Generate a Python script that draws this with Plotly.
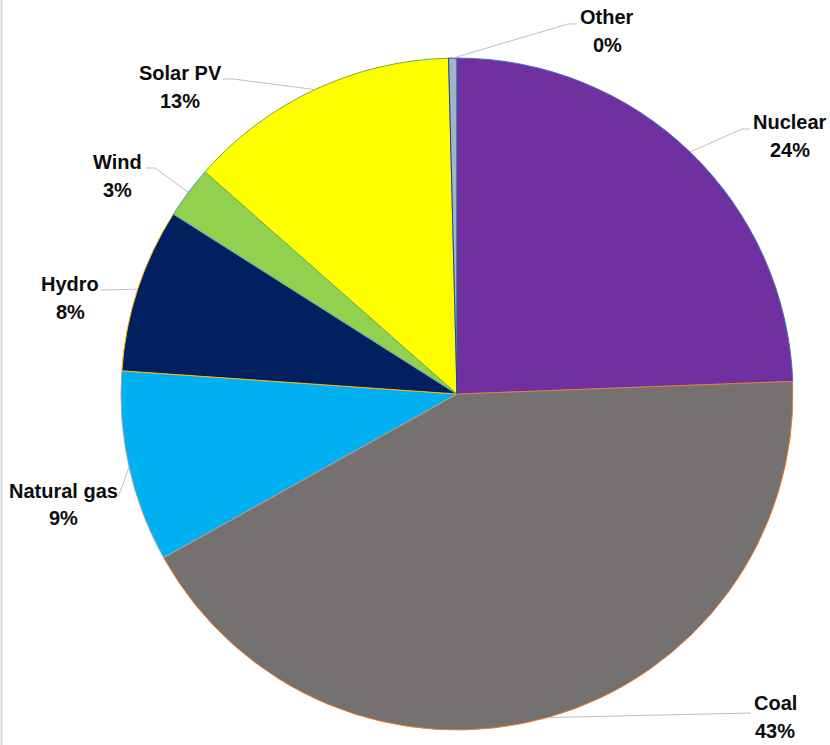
import math
import plotly.graph_objects as go

# ---- data ----
categories = ["Nuclear", "Coal", "Natural gas", "Hydro", "Wind", "Solar PV", "Other"]
shares = [24.4, 42.5, 9.2, 7.9, 2.5, 13.1, 0.4]

# ---- style ----
fill_colors = ["#7030A0", "#767171", "#00B0F0", "#002060", "#92D050", "#FFFF00", "#A3B1CC"]
edge_colors = ["#4472C4", "#ED7D31", "#A5A5A5", "#FFC000", "#5B9BD5", "#70AD47", "#264478"]

W, H = 830, 745
DOM_X = [0.1458, 0.9554]
DOM_Y = [0.0201, 0.9221]

# label placement (pixels): name line centre, percent line centre, leader elbow points
label_style = {
    "Nuclear":     dict(x=790, y1=122, y2=150, path=[(742, 129), (750, 129)]),
    "Coal":        dict(x=775, y1=703, y2=731, path=[(751, 713)]),
    "Natural gas": dict(x=63,  y1=491, y2=518, path=[(118, 497)]),
    "Hydro":       dict(x=70,  y1=284, y2=312, path=[(101, 290)]),
    "Wind":        dict(x=117, y1=162, y2=190, path=[(155, 168), (146, 168)]),
    "Solar PV":    dict(x=180, y1=73,  y2=101, path=[(233, 79), (223, 79)]),
    "Other":       dict(x=607, y1=17,  y2=45,  path=[(568, 24), (577, 24)]),
}

FONT = dict(family="Liberation Sans, Arial, sans-serif", size=20, color="#0D0D0D")

fig = go.Figure(go.Pie(
    labels=categories,
    values=shares,
    sort=False,
    direction="clockwise",
    rotation=0,
    textinfo="none",
    hoverinfo="label+percent",
    marker=dict(colors=fill_colors, line=dict(color=edge_colors, width=1)),
    domain=dict(x=DOM_X, y=DOM_Y),
    showlegend=False,
))

# pie geometry in pixels (matches Plotly's radius = min(w, h)/2)
cx = (DOM_X[0] + DOM_X[1]) / 2 * W
cy = H - (DOM_Y[0] + DOM_Y[1]) / 2 * H
radius = min((DOM_X[1] - DOM_X[0]) * W, (DOM_Y[1] - DOM_Y[0]) * H) / 2

def px2paper(p):
    return p[0] / W, 1 - p[1] / H

total = sum(shares)
cum = 0.0
annotations = []
shapes = []
for cat, v in zip(categories, shares):
    mid = (cum + v / 2) / total * 2 * math.pi
    cum += v
    edge = (cx + radius * math.sin(mid), cy - radius * math.cos(mid))
    st = label_style[cat]
    pts = [edge] + st["path"]
    path = ""
    for i, p in enumerate(pts):
        px_, py_ = px2paper(p)
        path += ("M" if i == 0 else "L") + f"{px_:.5f},{py_:.5f} "
    shapes.append(dict(type="path", xref="paper", yref="paper", path=path.strip(),
                       line=dict(color="#BFBFBF", width=1)))
    pct = int(v / total * 100 + 0.5)
    for text, yy in ((f"<b>{cat}</b>", st["y1"]), (f"<b>{pct}%</b>", st["y2"])):
        ax, ay = px2paper((st["x"], yy))
        annotations.append(dict(x=ax, y=ay, xref="paper", yref="paper", text=text,
                                showarrow=False, xanchor="center", yanchor="middle",
                                font=FONT))

# faint chart-area border on the left
shapes.append(dict(type="line", xref="paper", yref="paper", x0=1.5 / W, x1=1.5 / W,
                   y0=0, y1=1, line=dict(color="#D9D9D9", width=2)))

fig.update_layout(
    width=W, height=H,
    margin=dict(l=0, r=0, t=0, b=0),
    paper_bgcolor="white", plot_bgcolor="white",
    annotations=annotations,
    shapes=shapes,
)

fig.write_html("out.html")
